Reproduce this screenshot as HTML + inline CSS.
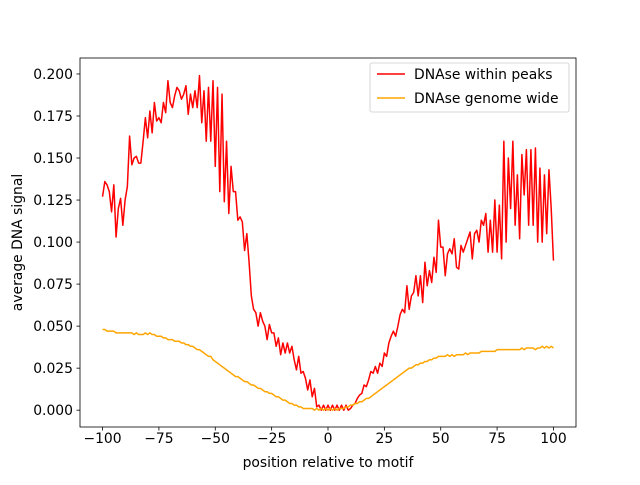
<!DOCTYPE html>
<html><head><meta charset="utf-8"><style>
body{margin:0;background:#fff}
svg text{font-family:"DejaVu Sans","Liberation Sans",sans-serif;font-size:13.9px;fill:#000}
svg text.tick{font-size:13.9px}
</style></head><body>
<svg id="chart" width="640" height="480" xmlns="http://www.w3.org/2000/svg">
<rect width="640" height="480" fill="#fff"/>
<g id="marks"></g>
<g id="axes"></g>
</svg>
<script>
const xStart = -100;
const peaks = [
.127,.136,.134,.130,.118,.134,.103,.120,.126,.110,
.125,.133,.163,.146,.150,.151,.147,.147,.160,.174,
.162,.178,.165,.183,.172,.174,.171,.183,.177,.196,
.183,.180,.187,.192,.190,.185,.188,.193,.176,.188,
.180,.190,.180,.199,.171,.190,.160,.192,.160,.196,
.145,.192,.130,.188,.124,.160,.117,.145,.130,.130,
.113,.115,.112,.095,.105,.088,.068,.060,.058,.050,
.058,.053,.050,.042,.051,.046,.046,.038,.043,.033,
.040,.034,.040,.034,.038,.030,.024,.032,.022,.023,
.019,.012,.018,.008,.013,.002,.003,0,.003,0,
.003,0,.003,0,.003,0,.003,0,.003,0,
.001,.003,.004,.007,.009,.010,.015,.014,.018,.023,
.022,.026,.022,.028,.026,.034,.032,.040,.044,.047,
.044,.050,.057,.060,.058,.074,.060,.068,.070,.080,
.068,.080,.064,.088,.074,.083,.076,.091,.082,.113,
.097,.097,.080,.093,.096,.093,.102,.085,.084,.098,
.094,.098,.102,.106,.090,.105,.107,.100,.113,.110,
.117,.094,.113,.094,.125,.094,.122,.090,.160,.100,
.150,.120,.160,.110,.140,.102,.152,.128,.155,.110,
.155,.110,.156,.100,.144,.100,.140,.105,.143,.120,
.089];
const genome = [
.048,.048,.047,.047,.047,.047,.046,.046,.046,.046,
.046,.046,.046,.046,.045,.046,.045,.045,.045,.046,
.045,.046,.045,.045,.044,.044,.044,.043,.043,.042,
.042,.042,.041,.041,.041,.040,.040,.039,.039,.038,
.038,.037,.036,.036,.035,.034,.033,.032,.032,.030,
.029,.028,.027,.026,.025,.024,.023,.022,.021,.020,
.020,.019,.018,.017,.017,.016,.015,.015,.014,.013,
.013,.012,.011,.011,.010,.010,.009,.008,.008,.007,
.006,.006,.005,.004,.004,.003,.003,.002,.002,.001,
.001,.001,.001,.001,.000,.001,.000,.001,.000,.001,
.000,.001,.000,.001,.000,.001,.001,.001,.002,.002,
.003,.003,.004,.004,.005,.005,.006,.007,.007,.008,
.009,.010,.011,.012,.013,.014,.015,.016,.017,.018,
.019,.020,.021,.022,.023,.024,.025,.025,.026,.027,
.027,.028,.028,.029,.029,.030,.030,.031,.031,.032,
.032,.032,.032,.033,.032,.033,.032,.033,.033,.033,
.033,.034,.033,.034,.034,.034,.034,.034,.035,.035,
.035,.035,.035,.035,.035,.036,.036,.036,.036,.036,
.036,.036,.036,.036,.036,.036,.037,.036,.037,.037,
.037,.037,.036,.037,.037,.038,.037,.038,.037,.038,
.037];
const xTicks = [-100,-75,-50,-25,0,25,50,75,100];
const yTicks = [0,0.025,0.05,0.075,0.1,0.125,0.15,0.175,0.2];
const yTickLabels = ["0.000","0.025","0.050","0.075","0.100","0.125","0.150","0.175","0.200"];
const seriesNames = ["DNAse within peaks","DNAse genome wide"];

const L=80,R=576,T=58,B=427;
const xMin=-110,xMax=110,yMin=-0.01,yMax=0.2095;
const sx=v=>L+(v-xMin)/(xMax-xMin)*(R-L);
const sy=v=>B-(v-yMin)/(yMax-yMin)*(B-T);
const NS="http://www.w3.org/2000/svg";
function mk(tag,attrs,parent){const e=document.createElementNS(NS,tag);for(const k in attrs)e.setAttribute(k,attrs[k]);parent.appendChild(e);return e;}
const marks=document.getElementById('marks'), axes=document.getElementById('axes');

function line(arr,color,name){
  const d=arr.map((v,i)=>(i?'L':'M')+sx(xStart+i).toFixed(2)+','+sy(v).toFixed(2)).join('');
  const p=mk('path',{d:d,fill:'none',stroke:color,'stroke-width':1.5,'stroke-linejoin':'round'},marks);
  
  
}
line(peaks,'#ff0000','peaks-line');
line(genome,'#ffa500','genome-line');

const frame=mk('rect',{x:L,y:T,width:R-L,height:B-T,fill:'none',stroke:'#000','stroke-width':0.8},axes);



xTicks.forEach(v=>{
  const x=sx(v);
  mk('line',{x1:x,x2:x,y1:B,y2:B+3.5,stroke:'#000','stroke-width':0.8},axes);
  const t=mk('text',{x:x,y:B+16,'text-anchor':'middle'},axes);
  t.textContent=String(v).replace('-','\u2212');
  
  
});
yTicks.forEach((v,i)=>{
  const y=sy(v);
  mk('line',{x1:L-3.5,x2:L,y1:y,y2:y,stroke:'#000','stroke-width':0.8},axes);
  const t=mk('text',{x:L-7,y:y+5,'text-anchor':'end'},axes);
  t.textContent=yTickLabels[i];
  
  
});
const xt=mk('text',{x:(L+R)/2,y:467,'text-anchor':'middle'},axes);
xt.textContent='position relative to motif';


const yt=mk('text',{x:22,y:(T+B)/2,'text-anchor':'middle',transform:'rotate(-90 22 '+((T+B)/2)+')'},axes);
yt.textContent='average DNA signal';



const lg=mk('g',{},axes);


mk('rect',{x:370,y:63,width:199,height:49,rx:2,fill:'#fff','fill-opacity':0.8,stroke:'#ccc','stroke-width':0.8},lg);
const colors=['#ff0000','#ffa500'];
seriesNames.forEach((n,i)=>{
  const y=74+i*24;
  mk('line',{x1:377,x2:405,y1:y,y2:y,stroke:colors[i],'stroke-width':1.5},lg);
  const t=mk('text',{x:414,y:y+5},lg);
  t.textContent=n;
  
  
});
</script>
</body></html>
